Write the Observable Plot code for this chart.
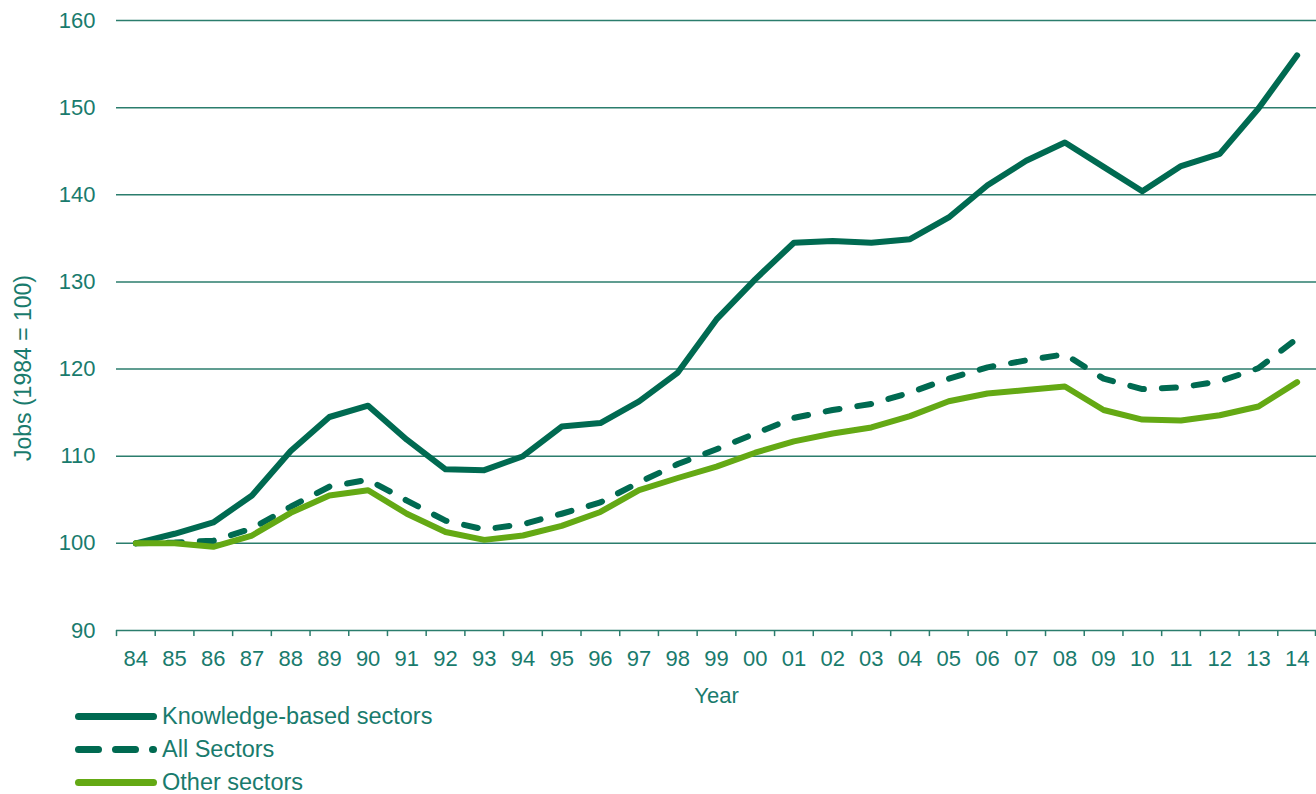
<!DOCTYPE html>
<html><head><meta charset="utf-8">
<script src="https://cdn.jsdelivr.net/npm/d3@7"></script>
<script src="https://cdn.jsdelivr.net/npm/@observablehq/plot@0.6"></script>
<style>
body{margin:0;background:#fff;font-family:"Liberation Sans",Arial,sans-serif;}
#wrap{position:relative;width:1316px;height:794px;overflow:hidden;}
#legend{position:absolute;left:0;top:700px;width:600px;}
.row{position:relative;height:33px;}
.row svg{position:absolute;left:70px;top:0;}
.row span{position:absolute;left:162px;top:0;font-size:23.5px;line-height:33px;color:#197b6d;white-space:nowrap;}
</style></head>
<body>
<div id="wrap"><div id="chart"></div><div id="legend"></div></div>
<script>
const years = ["84","85","86","87","88","89","90","91","92","93","94","95","96","97","98","99","00","01","02","03","04","05","06","07","08","09","10","11","12","13","14"];
const knowledge = [100,101.1,102.4,105.5,110.6,114.5,115.8,111.9,108.5,108.4,110.0,113.4,113.8,116.3,119.6,125.7,130.3,134.5,134.7,134.5,134.9,137.4,141.1,143.9,146.0,143.2,140.4,143.3,144.7,149.9,156.0];
const allSectors = [100,100.1,100.3,101.7,104.2,106.5,107.3,104.9,102.6,101.6,102.2,103.4,104.7,107.0,109.1,110.8,112.6,114.4,115.3,116.0,117.3,118.9,120.2,121.0,121.7,118.9,117.7,117.9,118.6,120.1,123.5];
const other = [100,100.0,99.6,100.9,103.5,105.5,106.1,103.4,101.3,100.4,100.9,102.0,103.6,106.1,107.5,108.8,110.4,111.7,112.6,113.3,114.6,116.3,117.2,117.6,118.0,115.3,114.2,114.1,114.7,115.7,118.5];
const yTicks = [90,100,110,120,130,140,150,160];
const seriesNames = ["Knowledge-based sectors","All Sectors","Other sectors"];
const yTitle = "Jobs (1984 = 100)";

const dark = "#006a51", light = "#64a914", teal = "#197b6d", grid = "#2b7d6d";
const step = 1200 / years.length;

const toRows = (vals) => years.map((y, i) => ({year: y, value: vals[i]}));

const chart = Plot.plot({
  width: 1316, height: 706,
  marginLeft: 116, marginRight: 0, marginTop: 20, marginBottom: 76,
  style: {fontFamily: "Liberation Sans, Arial, sans-serif", fontSize: "22px", color: teal, background: "#fff", overflow: "visible"},
  x: {type: "point", domain: years, padding: 0.5, round: false},
  y: {domain: [90, 160]},
  marks: [
    Plot.ruleY(yTicks, {stroke: grid, strokeWidth: 1.5}),
    Plot.ruleX(years, {x: d => d, y1: 90, y2: 89.3, dx: -step/2, stroke: grid, strokeWidth: 1.5}),
    Plot.ruleX([years[years.length-1]], {x: d => d, y1: 90, y2: 89.3, dx: step/2 - 1, stroke: grid, strokeWidth: 1.5}),
    Plot.axisY({ticks: yTicks, tickSize: 0, tickPadding: 21, label: null, fill: teal}),
    Plot.text([yTitle], {frameAnchor: "left", rotate: -90, dx: -93, dy: 42.5, fontSize: 23, fill: teal, lineAnchor: "middle", textAnchor: "middle"}),
    Plot.axisX({tickSize: 0, tickPadding: 20, label: "Year", labelAnchor: "center", labelOffset: 72, labelArrow: "none", fill: teal}),
    Plot.line(toRows(knowledge), {x: "year", y: "value", stroke: dark, strokeWidth: 6, strokeLinecap: "round", strokeLinejoin: "round"}),
    Plot.line(toRows(allSectors), {x: "year", y: "value", stroke: dark, strokeWidth: 6, strokeDasharray: "14,18", strokeLinecap: "round", strokeLinejoin: "round"}),
    Plot.line(toRows(other), {x: "year", y: "value", stroke: light, strokeWidth: 6, strokeLinecap: "round", strokeLinejoin: "round"})
  ]
});
document.getElementById("chart").appendChild(chart);

const legendStyles = [
  {stroke: dark, dash: null},
  {stroke: dark, dash: "20,17"},
  {stroke: light, dash: null}
];
const legend = document.getElementById("legend");
seriesNames.forEach((name, i) => {
  const row = document.createElement("div");
  row.className = "row";
  const s = legendStyles[i];
  row.innerHTML = `<svg width="92" height="33"><line x1="8.5" x2="83.5" y1="16.5" y2="16.5" stroke="${s.stroke}" stroke-width="7" stroke-linecap="round" ${s.dash ? `stroke-dasharray="${s.dash}"` : ""}/></svg><span>${name}</span>`;
  legend.appendChild(row);
});
</script>
</body></html>
